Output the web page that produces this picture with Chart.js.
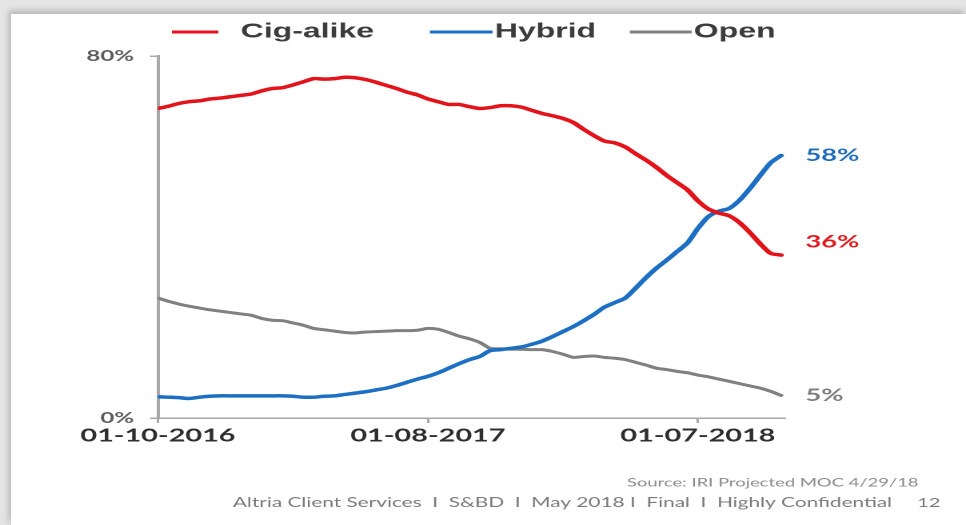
<!DOCTYPE html>
<html>
<head>
<meta charset="utf-8">
<script src="https://cdn.jsdelivr.net/npm/chart.js@4/dist/chart.umd.min.js"></script>
<style>
  html, body { margin: 0; padding: 0; }
  body { width: 966px; height: 525px; background: #e4e4e4; position: relative; overflow: hidden; }
  #panel {
    position: absolute; left: 11px; top: 14px; right: 0; bottom: 0;
    background: #ffffff;
    box-shadow: -2px -3px 6px rgba(0,0,0,0.22);
  }
  /* the slide is laid out narrow and widened horizontally */
  #wrap {
    position: absolute; left: 0; top: 0; width: 604px; height: 525px;
    transform: scaleX(1.5993); transform-origin: 0 0;
  }
  canvas { display: block; }
</style>
</head>
<body>
<div id="panel"></div>
<div id="wrap"><canvas id="c" width="604" height="525"></canvas></div>
<script>
// weekly market share (weeks since 01-10-2016), sampled every second week
const weeks = [0, 2, 4, 6, 8, 10, 12, 14, 16, 18, 20, 22, 24, 26, 28, 30, 32, 34, 36, 38,
  40, 42, 44, 46, 48, 50, 52, 54, 56, 58, 60, 62, 64, 66, 68, 70, 72, 74, 76, 78,
  80, 82, 84, 86, 88, 90, 92, 94, 96, 98, 100, 102, 104, 106, 108, 110, 112, 114, 116, 118, 120];

const cigAlike = [68.4, 68.9, 69.5, 69.9, 70.1, 70.5, 70.7, 71.0, 71.3, 71.6, 72.3, 72.8, 73.0, 73.6, 74.3, 75.0, 74.9, 75.0, 75.3, 75.2,
  74.8, 74.2, 73.5, 72.8, 72.0, 71.4, 70.5, 69.9, 69.3, 69.3, 68.8, 68.4, 68.6, 69.0, 69.0, 68.7, 68.0, 67.3, 66.8, 66.2,
  65.3, 63.8, 62.4, 61.2, 60.8, 59.9, 58.4, 57.0, 55.4, 53.6, 52.0, 50.4, 48.0, 46.2, 45.3, 44.7, 43.2, 41.0, 38.5, 36.4, 36];

const hybrid = [4.7, 4.6, 4.5, 4.3, 4.6, 4.8, 4.9, 4.9, 4.9, 4.9, 4.9, 4.9, 4.9, 4.8, 4.6, 4.6, 4.8, 4.9, 5.2, 5.5,
  5.8, 6.2, 6.6, 7.2, 7.9, 8.6, 9.2, 10.0, 11.0, 12.0, 12.9, 13.6, 14.9, 15.1, 15.4, 15.7, 16.3, 17.0, 18.0, 19.1,
  20.2, 21.5, 22.9, 24.5, 25.5, 26.5, 28.7, 31.0, 33.1, 34.9, 36.8, 38.7, 41.9, 44.5, 45.7, 46.3, 48.1, 50.7, 53.6, 56.4, 58];

const openSystem = [26.5, 25.8, 25.2, 24.7, 24.3, 23.9, 23.6, 23.3, 23.0, 22.7, 22.0, 21.6, 21.5, 21.0, 20.5, 19.8, 19.5, 19.2, 18.9, 18.8,
  19.0, 19.1, 19.2, 19.3, 19.3, 19.4, 19.8, 19.6, 18.9, 18.1, 17.5, 16.7, 15.4, 15.3, 15.2, 15.2, 15.1, 15.1, 14.7, 14.1,
  13.4, 13.6, 13.7, 13.4, 13.2, 12.9, 12.3, 11.7, 11.0, 10.7, 10.3, 10.0, 9.5, 9.1, 8.6, 8.1, 7.6, 7.1, 6.6, 5.9, 5];

const seriesNames = ['Cig-alike', 'Hybrid', 'Open'];
const tickWeeks = [0, 52, 104];
const tickLabels = ['01-10-2016', '01-08-2017', '01-07-2018'];
const yTickValues = [0, 80];
const sourceNote = 'Source: IRI Projected MOC 4/29/18';
const footerNote = 'Altria Client Services  I  S&BD  I  May 2018 I  Final  I  Highly Confidential';
const pageNumber = '12';

const lineColors = ['#e3131b', '#1c6fc2', '#808080'];
const labelColors = ['#e01b1f', '#1f6dbd', '#7d7d7d'];
const lineWidths = [3.5, 3.5, 3];

// legend swatch/text positions and end-label nudges
const legendSlots = [
  { x0: 107.5, x1: 136.5, tx: 150.5 },
  { x0: 268.8, x1: 308.0, tx: 309.4 },
  { x0: 393.8, x1: 432.5, tx: 433.8 }
];
const endLabelShift = [-13, 0, 0];

const toPoints = arr => weeks.map((w, i) => ({ x: w, y: arr[i] }));

const slideText = {
  id: 'slideText',
  afterDraw(chart) {
    const ctx = chart.ctx;
    const area = chart.chartArea;
    const yScale = chart.scales.y;
    ctx.save();

    // legend
    ctx.textBaseline = 'middle';
    ctx.textAlign = 'left';
    chart.data.datasets.forEach((ds, i) => {
      const s = legendSlots[i];
      ctx.strokeStyle = ds.borderColor;
      ctx.lineWidth = 3;
      ctx.beginPath();
      ctx.moveTo(s.x0, 32);
      ctx.lineTo(s.x1, 32);
      ctx.stroke();
      ctx.fillStyle = '#3c3c3c';
      ctx.font = 'bold 20px "Liberation Sans", Arial, sans-serif';
      ctx.fillText(seriesNames[i], s.tx, 32);
    });

    // end-of-line values
    ctx.font = 'bold 17px Lato, sans-serif';
    chart.data.datasets.forEach((ds, i) => {
      const last = ds.data[ds.data.length - 1].y;
      const y = yScale.getPixelForValue(last) + endLabelShift[i];
      ctx.fillStyle = labelColors[i];
      ctx.fillText(Math.round(last) + '%', area.right + 13, y);
    });

    // footnotes
    ctx.fillStyle = '#8a8a8a';
    ctx.font = '11.5px Lato, sans-serif';
    ctx.fillText(sourceNote, 392, 483);
    ctx.fillStyle = '#7a7a7a';
    ctx.font = '13px Lato, sans-serif';
    ctx.fillText(footerNote, 145.6, 503);
    ctx.textAlign = 'right';
    ctx.font = '12.5px Lato, sans-serif';
    ctx.fillText(pageNumber, 588, 503);
    ctx.restore();
  }
};

new Chart(document.getElementById('c'), {
  type: 'line',
  data: {
    datasets: [cigAlike, hybrid, openSystem].map((arr, i) => ({
      label: seriesNames[i],
      data: toPoints(arr),
      borderColor: lineColors[i],
      backgroundColor: lineColors[i],
      borderWidth: lineWidths[i],
      pointRadius: 0,
      tension: 0.25,
      borderCapStyle: 'round',
      borderJoinStyle: 'round',
      fill: false
    }))
  },
  options: {
    responsive: false,
    animation: false,
    devicePixelRatio: 2,
    layout: { padding: { left: 0, right: 113.4, top: 56, bottom: 0 } },
    plugins: { legend: { display: false }, tooltip: { enabled: false } },
    scales: {
      x: {
        type: 'linear',
        min: 0,
        max: 120.7,
        afterBuildTicks: s => { s.ticks = tickWeeks.map(v => ({ value: v })); },
        afterFit: s => { s.height = 107; },
        ticks: {
          autoSkip: false,
          maxRotation: 0,
          padding: 2,
          color: '#2e2e2e',
          font: { family: 'Lato', weight: 'bold', size: 18 },
          callback: (v, i) => tickLabels[i]
        },
        grid: { drawOnChartArea: false, drawTicks: true, tickLength: 5, color: '#a8a8a8', lineWidth: 1.5 },
        border: { display: true, color: '#a8a8a8', width: 1.5 }
      },
      y: {
        min: 0,
        max: 80,
        afterBuildTicks: s => { s.ticks = yTickValues.map(v => ({ value: v })); },
        afterFit: s => { s.width = 98.75; },
        ticks: {
          padding: 10,
          color: '#5e5e5e',
          font: { family: 'Lato', weight: 'bold', size: 15 },
          callback: v => v + '%'
        },
        grid: { drawOnChartArea: false, drawTicks: true, tickLength: 5, color: '#a8a8a8', lineWidth: 1.5 },
        border: { display: true, color: '#a8a8a8', width: 2 }
      }
    }
  },
  plugins: [slideText]
});
</script>
</body>
</html>
